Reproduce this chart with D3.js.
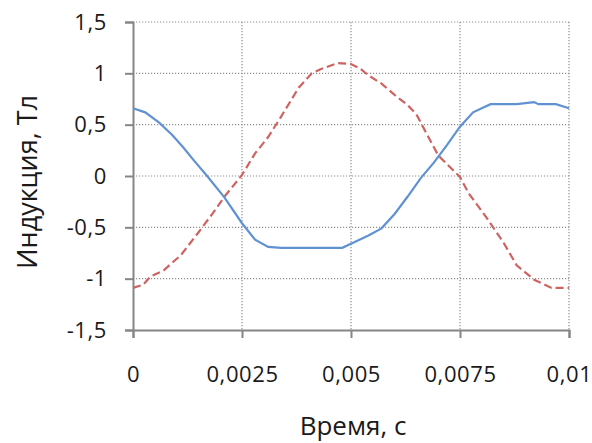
<!DOCTYPE html>
<html>
<head>
<meta charset="utf-8">
<script src="https://cdn.jsdelivr.net/npm/d3@7"></script>
<style>
  body { margin: 0; background: #fff; }
  text { font-family: "Open Sans", sans-serif; fill: #1a1a1a; }
</style>
</head>
<body>
<div id="chart"></div>
<script>
// time, s
const timeBlue = [0, 0.00028, 0.0006, 0.0009, 0.00115, 0.0014, 0.0017, 0.0021, 0.0025, 0.0028, 0.0031, 0.0034,
    0.0048, 0.005, 0.0054, 0.0057, 0.006, 0.0063, 0.0066, 0.0069, 0.0072, 0.0075, 0.0078, 0.0082,
    0.0088, 0.0092, 0.0093, 0.0097, 0.01];
const inductionBlue = [0.66, 0.62, 0.52, 0.40, 0.28, 0.15, 0.0, -0.21, -0.46, -0.62, -0.69, -0.70,
    -0.70, -0.66, -0.58, -0.51, -0.37, -0.2, -0.02, 0.13, 0.30, 0.48, 0.62, 0.70,
    0.70, 0.72, 0.70, 0.70, 0.66];

const timeRed = [0, 0.00023, 0.0004, 0.0007, 0.0011, 0.0015, 0.0018, 0.0021, 0.0025, 0.0028, 0.0031, 0.0034,
    0.0038, 0.0041, 0.0043, 0.0047, 0.005, 0.0052, 0.0054, 0.0057, 0.006, 0.0063, 0.0065, 0.0066,
    0.007, 0.0075, 0.0077, 0.0081, 0.0085, 0.0088, 0.0092, 0.0096, 0.01];
const inductionRed = [-1.09, -1.06, -0.98, -0.92, -0.77, -0.55, -0.38, -0.2, 0.01, 0.22, 0.38, 0.58,
    0.86, 1.0, 1.04, 1.10, 1.09, 1.05, 0.98, 0.9, 0.79, 0.69, 0.6, 0.52,
    0.2, -0.01, -0.17, -0.40, -0.65, -0.87, -1.01, -1.09, -1.09];

const xTicks = [0, 0.0025, 0.005, 0.0075, 0.01];
const xTickLabels = ["0", "0,0025", "0,005", "0,0075", "0,01"];
const yTicks = [-1.5, -1, -0.5, 0, 0.5, 1, 1.5];
const yTickLabels = ["-1,5", "-1", "-0,5", "0", "0,5", "1", "1,5"];

const width = 592, height = 443;
const margin = { top: 22, right: 23, bottom: 113, left: 133 };
const w = width - margin.left - margin.right;
const h = height - margin.top - margin.bottom;

const svg = d3.select("#chart")
    .append("svg")
    .attr("width", width)
    .attr("height", height);

const g = svg.append("g")
    .attr("transform", `translate(${margin.left},${margin.top})`);

const x = d3.scaleLinear().domain([0, 0.01]).range([0, w]);
const y = d3.scaleLinear().domain([-1.5, 1.5]).range([h, 0]);

// dotted grid
g.append("g")
    .selectAll("line")
    .data(yTicks.filter(d => d !== -1.5))
    .enter()
    .append("line")
    .attr("x1", 0).attr("x2", w)
    .attr("y1", d => y(d)).attr("y2", d => y(d))
    .attr("stroke", "#8f8f8f")
    .attr("stroke-width", 1.2)
    .attr("stroke-dasharray", "1.2,1.8");

g.append("g")
    .selectAll("line")
    .data(xTicks.filter(d => d !== 0))
    .enter()
    .append("line")
    .attr("x1", d => x(d)).attr("x2", d => x(d))
    .attr("y1", 0).attr("y2", h)
    .attr("stroke", "#8f8f8f")
    .attr("stroke-width", 1.2)
    .attr("stroke-dasharray", "1.2,1.8");

// axes
const yAxis = g.append("g")
    .call(d3.axisLeft(y).tickValues(yTicks).tickSize(8).tickPadding(18)
        .tickFormat((d, i) => yTickLabels[i]));
const xAxis = g.append("g")
    .attr("transform", `translate(0,${h})`)
    .call(d3.axisBottom(x).tickValues(xTicks).tickSize(8).tickPadding(28)
        .tickFormat((d, i) => xTickLabels[i]));

[yAxis, xAxis].forEach(a => {
    a.select(".domain").attr("stroke", "#868686").attr("stroke-width", 2);
    a.selectAll(".tick line").attr("stroke", "#868686").attr("stroke-width", 2);
    a.selectAll("text").attr("font-size", "22px").attr("fill", "#1a1a1a")
        .style("letter-spacing", "0.6px")
        .style("font-family", "'Open Sans', sans-serif");
});

const line = d3.line()
    .x(d => x(d[0]))
    .y(d => y(d[1]));

g.append("path")
    .datum(d3.zip(timeRed, inductionRed))
    .attr("fill", "none")
    .attr("stroke", "#cd6462")
    .attr("stroke-width", 2.2)
    .attr("stroke-dasharray", "8,4")
    .attr("d", line);

g.append("path")
    .datum(d3.zip(timeBlue, inductionBlue))
    .attr("fill", "none")
    .attr("stroke", "#6092d2")
    .attr("stroke-width", 2.2)
    .attr("d", line);

// axis titles
svg.append("text")
    .attr("x", 353)
    .attr("y", 435)
    .attr("text-anchor", "middle")
    .attr("font-size", "26px")
    .text("Время, с");

svg.append("text")
    .attr("transform", "translate(37,182) rotate(-90)")
    .attr("text-anchor", "middle")
    .attr("font-size", "27px")
    .text("Индукция, Тл");
</script>
</body>
</html>
